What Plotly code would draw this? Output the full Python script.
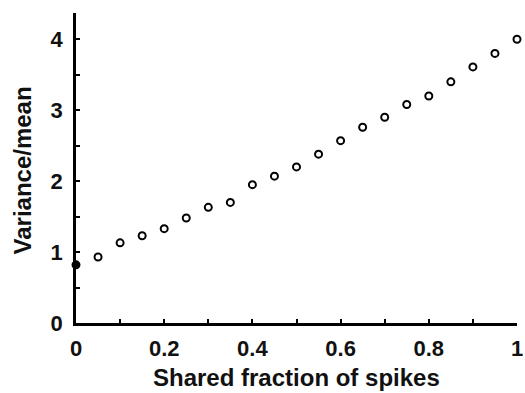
import plotly.graph_objects as go

shared_fraction = [0.0, 0.05, 0.1, 0.15, 0.2, 0.25, 0.3, 0.35, 0.4, 0.45, 0.5,
                   0.55, 0.6, 0.65, 0.7, 0.75, 0.8, 0.85, 0.9, 0.95, 1.0]
variance_mean = [0.82, 0.93, 1.13, 1.23, 1.33, 1.48, 1.63, 1.70, 1.95, 2.07, 2.20,
                 2.38, 2.57, 2.76, 2.90, 3.08, 3.20, 3.40, 3.61, 3.80, 4.00]
x_ticks = [0, 0.2, 0.4, 0.6, 0.8, 1]
x_labels = ["0", "0.2", "0.4", "0.6", "0.8", "1"]
y_ticks = [0, 1, 2, 3, 4]
y_labels = ["0", "1", "2", "3", "4"]
x_title = "Shared fraction of spikes"
y_title = "Variance/mean"

symbols = ["circle"] + ["circle-open"] * (len(shared_fraction) - 1)

fam = "Liberation Sans, Arial, sans-serif"
fig = go.Figure()
fig.add_trace(go.Scatter(
    x=shared_fraction, y=variance_mean, mode="markers",
    marker=dict(symbol=symbols, size=7, color="black",
                line=dict(color="black", width=2)),
    cliponaxis=False, showlegend=False,
))

axis_common = dict(
    showline=True, linecolor="black", linewidth=2.5, showgrid=False,
    zeroline=False, ticks="inside", ticklen=4, tickwidth=2, tickcolor="black",
    tickfont=dict(family=fam, size=22, color="#111", weight="bold"),
    mirror=False, automargin=False,
)
fig.update_xaxes(**axis_common, range=[0, 1], tickvals=x_ticks, ticktext=x_labels,
                 minor=dict(dtick=0.1, ticks="inside", ticklen=4, tickwidth=2, tickcolor="black"),
                 ticklabelstandoff=4)
fig.update_yaxes(**axis_common, range=[0, 4.37], tickvals=y_ticks, ticktext=y_labels,
                 minor=dict(dtick=0.5, ticks="inside", ticklen=4, tickwidth=2, tickcolor="black"),
                 ticklabelstandoff=6)
fig.add_annotation(text="<b>%s</b>" % x_title, xref="paper", yref="paper",
                   x=0.5, y=0, xanchor="center", yanchor="middle", yshift=-54,
                   showarrow=False, font=dict(family=fam, size=24, color="#111"))
fig.add_annotation(text="<b>%s</b>" % y_title, xref="paper", yref="paper",
                   x=0, y=0.492, xanchor="center", yanchor="middle", xshift=-54,
                   textangle=-90, showarrow=False,
                   font=dict(family=fam, size=24, color="#111"))
fig.update_layout(
    width=525, height=393, margin=dict(l=76, r=8, t=13, b=70),
    plot_bgcolor="white", paper_bgcolor="white",
)
fig.write_html("out.html")
